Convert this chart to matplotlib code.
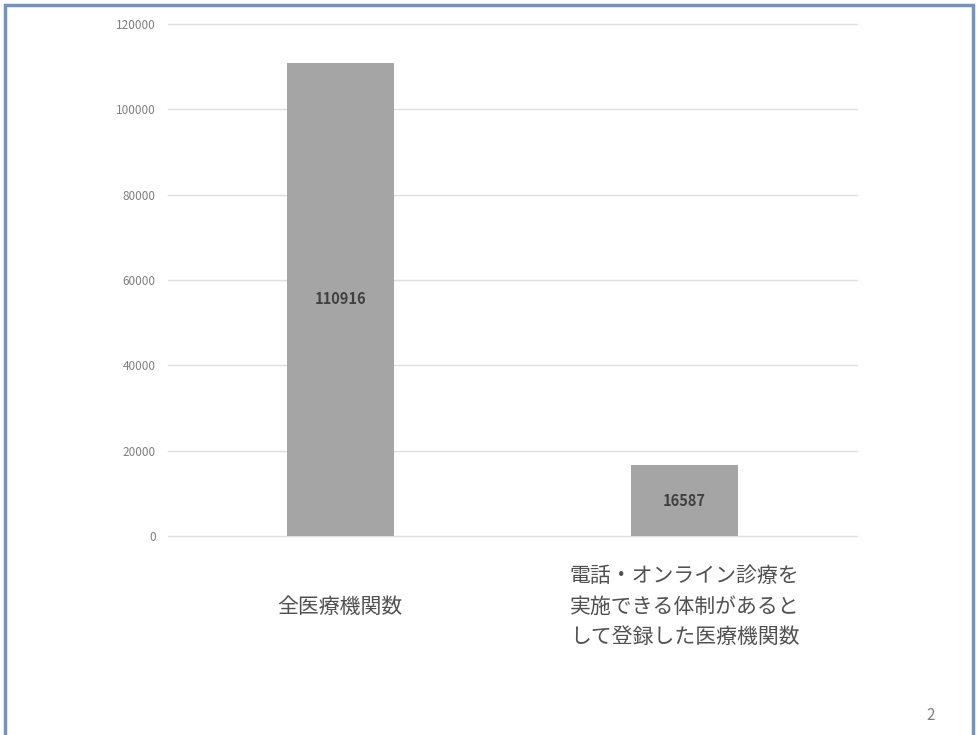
import matplotlib.pyplot as plt
from matplotlib.patches import Rectangle

plt.rcParams['font.family'] = ['Noto Sans CJK JP', 'DejaVu Sans']

categories = ['全医療機関数', '電話・オンライン診療を\n実施できる体制があると\nして登録した医療機関数']
values = [110916, 16587]
y_ticks = [0, 20000, 40000, 60000, 80000, 100000, 120000]
page_number = '2'

fig = plt.figure(figsize=(9.78, 7.35), dpi=100)
ax = fig.add_axes([0.1718, 0.2707, 0.704, 0.6966])

x = list(range(len(categories)))
bars = ax.bar(x, values, width=0.31, color='#a5a5a5', zorder=3)

# value labels in the middle of each bar
for b, v in zip(bars, values):
    ax.text(b.get_x() + b.get_width() / 2, v / 2, str(v), ha='center', va='center',
            fontsize=10.5, fontweight='bold', color='#404040', zorder=4)

ax.set_xlim(-0.5, len(categories) - 0.5)
ax.set_ylim(0, 120000)
ax.set_yticks(y_ticks)
ax.set_yticklabels([str(t) for t in y_ticks])
ax.set_xticks(x)
ax.set_xticklabels(categories, fontsize=15, color='#505050', linespacing=1.5)
for lbl in ax.get_xticklabels():
    lbl.set_va('center')
    lbl.set_multialignment('left')

ax.tick_params(axis='y', length=0, pad=9, labelsize=8.5, labelcolor='#7f7f7f')
ax.tick_params(axis='x', length=0, pad=51)
ax.grid(axis='y', color='#dfdfdf', linewidth=1.0, zorder=0)
for gl in ax.get_ygridlines():
    gl.set_clip_on(False)
ax.set_axisbelow(True)
for s in ax.spines.values():
    s.set_visible(False)

# slide frame and page number
fig.patches.append(Rectangle((5 / 978, -0.02), 968 / 978, 1 - 4.5 / 735 + 0.02,
                             transform=fig.transFigure, fill=False,
                             edgecolor='#7393bd', linewidth=2.5))
fig.text(931 / 978, 1 - 715 / 735, page_number, ha='center', va='center',
         fontsize=11, color='#7f7f7f')

fig.savefig('out.png', dpi=100)
